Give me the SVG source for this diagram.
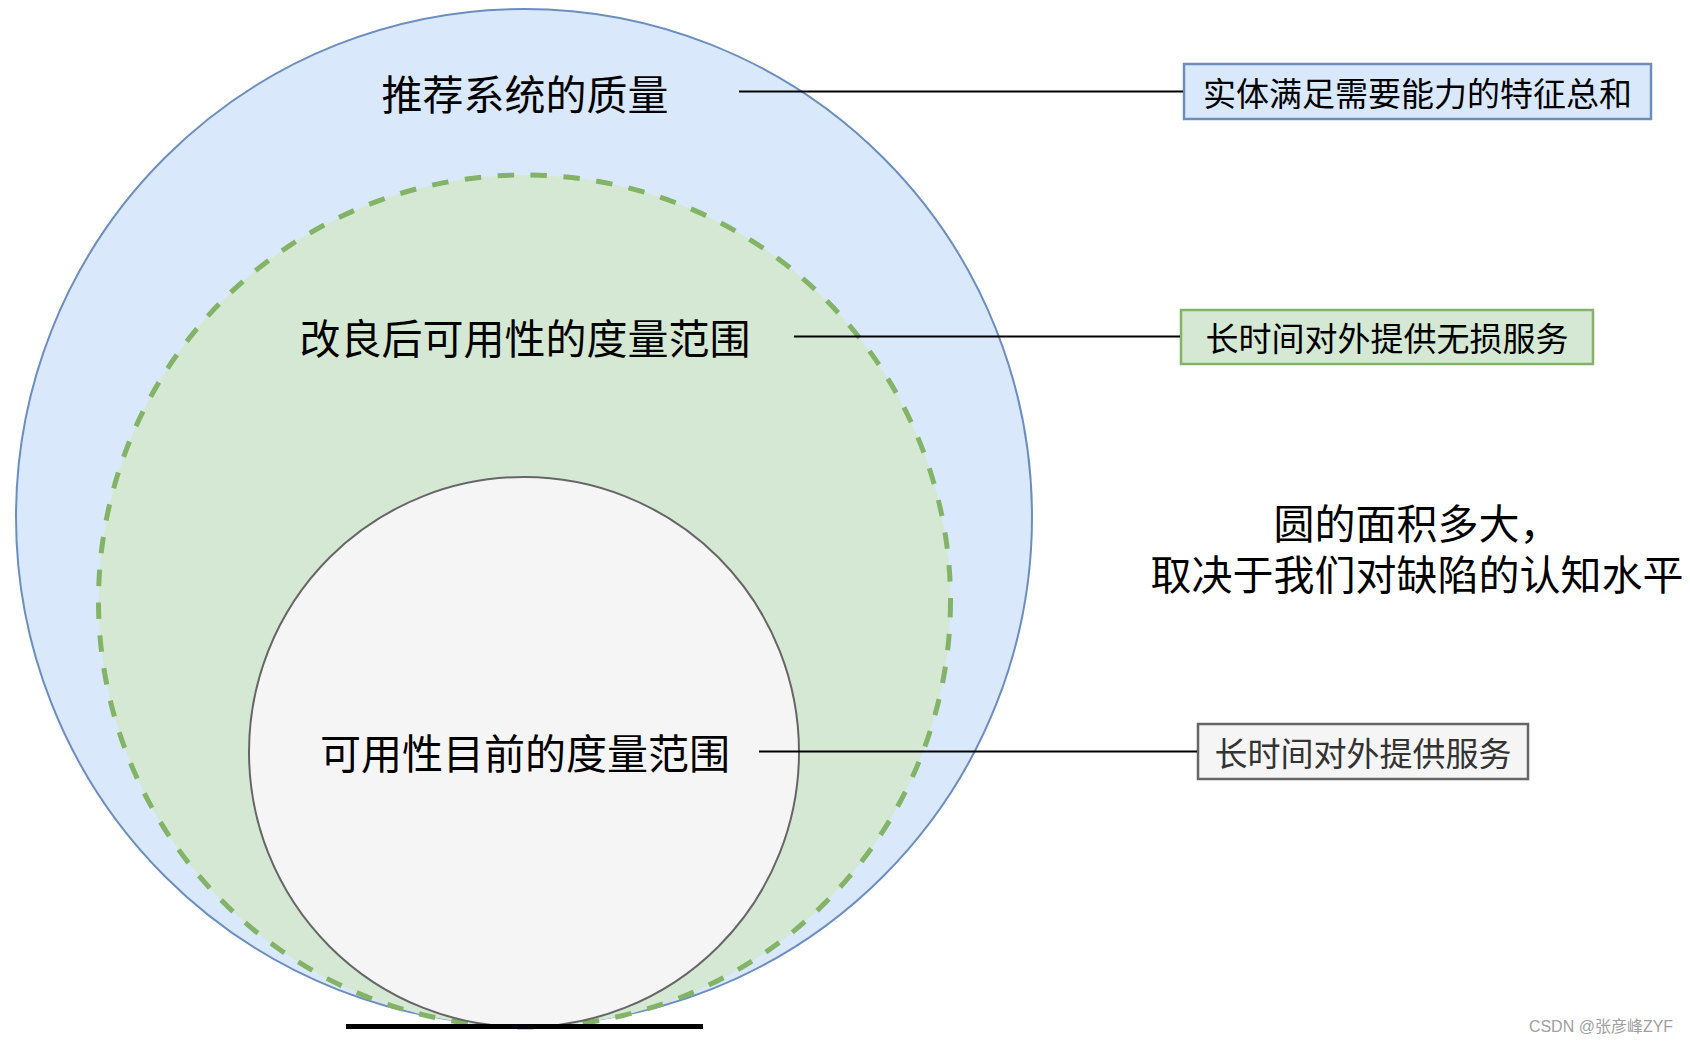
<svg xmlns="http://www.w3.org/2000/svg" width="1690" height="1044" viewBox="0 0 1690 1044">
<style>
text { font-family: "Noto Sans CJK SC", "Noto Sans", sans-serif; dominant-baseline: central; text-anchor: middle; }
.big { font-size: 41px; fill: #000; }
.lbl { font-size: 33px; }
.conn { stroke: #000; stroke-width: 2; fill: none; }
</style>
<rect width="1690" height="1044" fill="#ffffff"/>
<g id="outer">
<circle cx="524" cy="517" r="508" fill="#dae8fc" stroke="#6c8ebf" stroke-width="2"/>
<text class="big" x="525" y="92">推荐系统的质量</text>
</g>
<g id="middle">
<circle cx="524.5" cy="601" r="426" fill="#d5e8d4" stroke="#82b366" stroke-width="5" stroke-dasharray="16.5 16.5"/>
<text class="big" x="525" y="336">改良后可用性的度量范围</text>
</g>
<g id="inner">
<circle cx="524" cy="752" r="275" fill="#f5f5f5" stroke="#666666" stroke-width="2"/>
<text class="big" x="525" y="751">可用性目前的度量范围</text>
</g>
<g id="base">
<rect x="346" y="1024" width="357" height="5" fill="#000"/>
</g>
<g id="box1">
<rect x="1184" y="64" width="467" height="55" fill="#dae8fc" stroke="#6c8ebf" stroke-width="2.5"/>
<text class="lbl" x="1417.5" y="91.5" fill="#000">实体满足需要能力的特征总和</text>
</g>
<g id="box2">
<rect x="1181" y="310" width="412" height="54" fill="#d5e8d4" stroke="#82b366" stroke-width="2.5"/>
<text class="lbl" x="1387" y="337" fill="#000">长时间对外提供无损服务</text>
</g>
<g id="box3">
<rect x="1198" y="724" width="330" height="55" fill="#f5f5f5" stroke="#666666" stroke-width="2.5"/>
<text class="lbl" x="1363" y="751.5" fill="#333333">长时间对外提供服务</text>
</g>
<g id="note">
<text class="big"><tspan x="1417" y="521">圆的面积多大，</tspan><tspan x="1417" y="572">取决于我们对缺陷的认知水平</tspan></text>
</g>
<g id="connectors">
<line class="conn" x1="739" y1="91.5" x2="1183" y2="91.5"/>
<line class="conn" x1="794" y1="336.5" x2="1180" y2="336.5"/>
<line class="conn" x1="759" y1="751.5" x2="1197" y2="751.5"/>
</g>
<text x="1601" y="1026" style="font-size:16px; fill:#a0a0a0; font-family: 'Liberation Sans', 'Noto Sans CJK SC', sans-serif;">CSDN @张彦峰ZYF</text>
</svg>
